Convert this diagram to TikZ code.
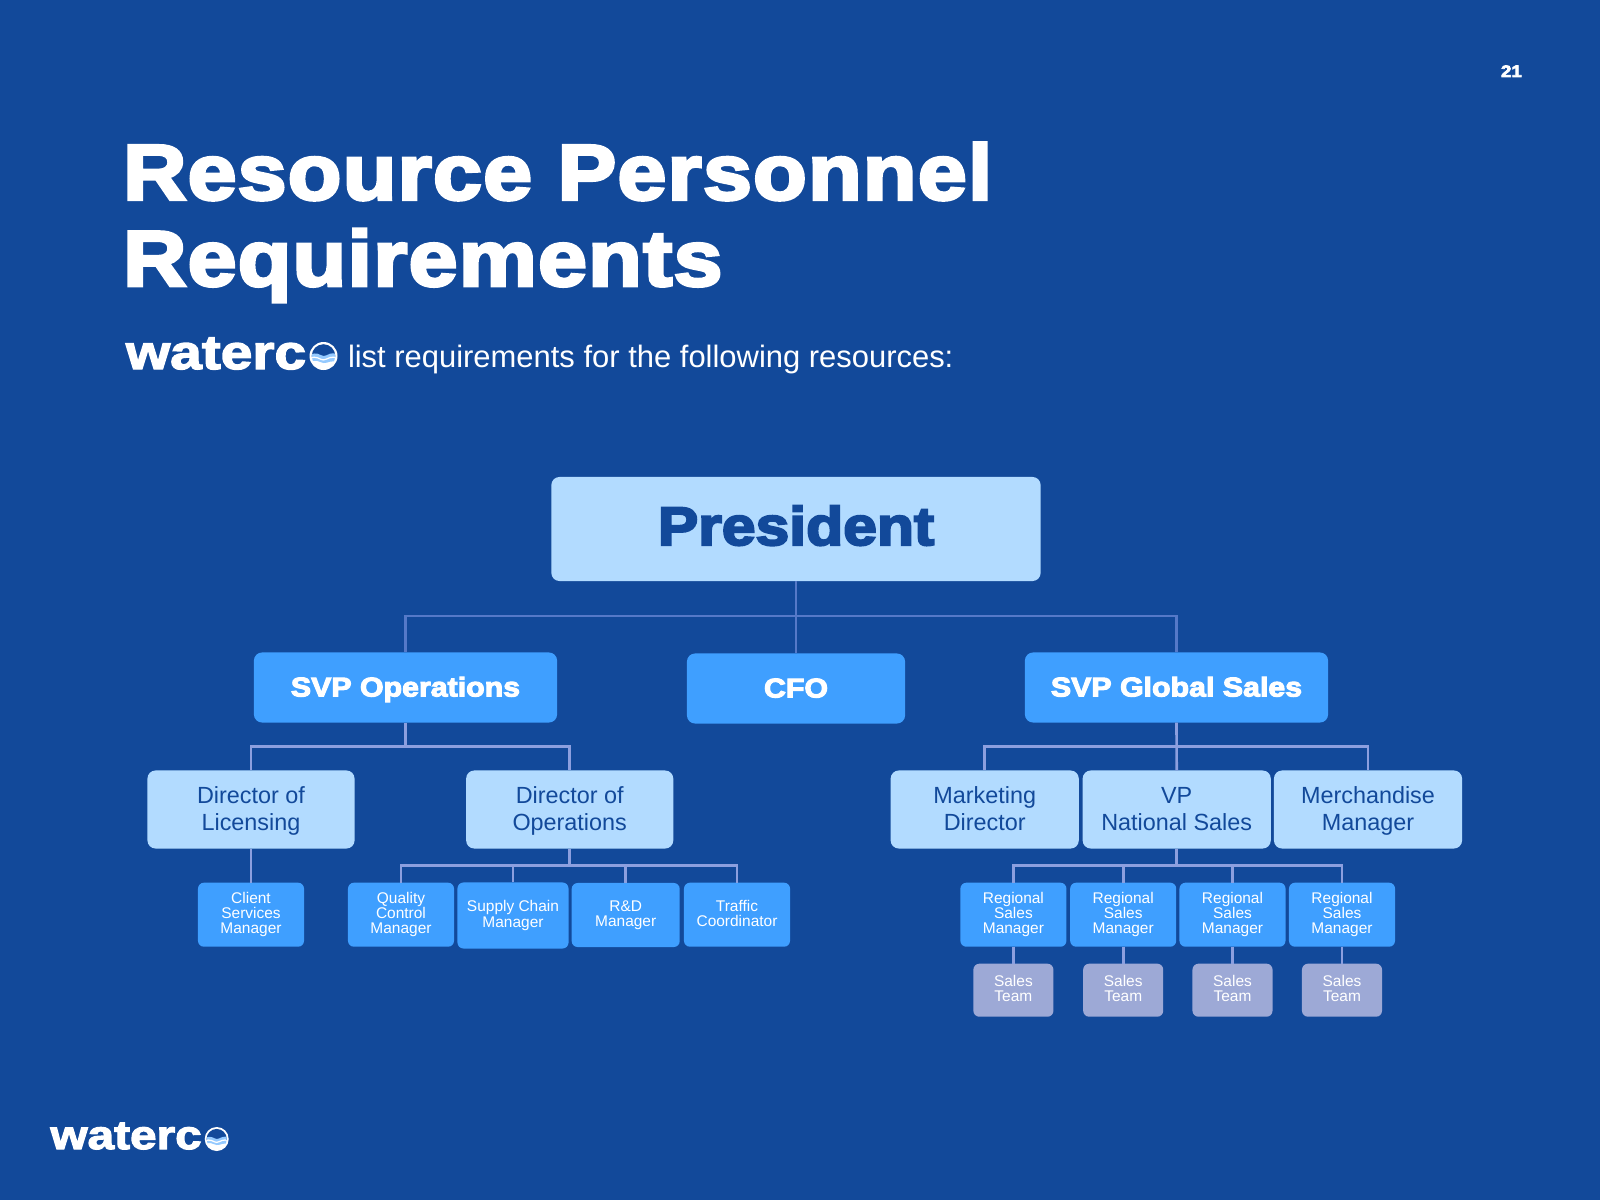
\documentclass[tikz,border=0pt]{standalone}
\usepackage{fontspec}
\setmainfont{Liberation Sans}
\newfontfamily\heavyfont[UprightFont={* Bold},FakeStretch=1.12,FakeBold=4]{Liberation Sans}
\newfontfamily\titlefont[UprightFont={* Bold},FakeStretch=1.12,FakeBold=4,LetterSpace=1.6]{Liberation Sans}
\newfontfamily\logofont[UprightFont={* Bold},FakeStretch=1.18,FakeBold=3]{Liberation Sans}
\definecolor{bgblue}{HTML}{12499A}
\definecolor{paleblue}{HTML}{B2DBFF}
\definecolor{midblue}{HTML}{3F9FFF}
\definecolor{teamgrey}{HTML}{9DA9D6}
\definecolor{toplink}{HTML}{5579C8}
\definecolor{lowlink}{HTML}{8C9FDF}

\begin{document}
\begin{tikzpicture}[
    x=0.01cm, y=-0.01cm,
    box/.style={rectangle, rounded corners=2.3pt, inner sep=0pt, outer sep=0pt, text centered, align=center},
    head/.style={box, fill=paleblue, text=bgblue, minimum width=4.89cm, minimum height=1.04cm, font=\heavyfont\fontsize{15.4}{18}\selectfont, execute at begin node=\rule{0pt}{.8em}, execute at end node=\rule[-.21em]{0pt}{.21em}},
    senior/.style={box, fill=midblue, text=white, minimum width=3.03cm, minimum height=0.70cm, font=\heavyfont\fontsize{7.7}{9}\selectfont, execute at begin node=\rule{0pt}{.87em}, execute at end node=\rule[-.21em]{0pt}{.21em}},
    middle/.style={box, fill=paleblue, text=bgblue, minimum width=2.07cm, minimum height=0.78cm, font=\fontsize{6.65}{7.7}\selectfont, text height=12pt, text depth=0pt},
    wide/.style={middle, minimum width=1.88cm},
    staff/.style={box, rounded corners=1.7pt, fill=midblue, text=white, minimum width=1.06cm, minimum height=0.64cm, font=\fontsize{4.4}{4.35}\selectfont, execute at begin node=\rule{0pt}{.72em}, execute at end node=\rule[-.21em]{0pt}{.21em}},
    team/.style={box, rounded corners=1.7pt, fill=teamgrey, text=white, minimum width=0.80cm, minimum height=0.53cm, font=\fontsize{4.4}{4.35}\selectfont, execute at begin node=\rule{0pt}{.72em}, execute at end node=\rule[-.21em]{0pt}{.21em}},
    uplink/.style={draw=toplink, line width=0.8pt},
    link/.style={draw=lowlink, line width=0.75pt},
    plain/.style={inner sep=0pt, outer sep=0pt, text=white, anchor=base west},
    pics/logoball/.style={code={
        \begin{scope}[x=#1*0.01cm, y=-#1*0.01cm]
            \fill[white] (0,0) circle (1);
            \begin{scope}
                \clip (0,0) circle (0.84);
                \fill[bgblue] (-1,-1) rectangle (1,0.1);
                \fill[midblue!55!white] (-1,-0.02) .. controls (-0.5,-0.4) and (-0.25,-0.02) .. (0,0) .. controls (0.3,0.02) and (0.6,-0.45) .. (1,-0.02) -- (1,0.5) .. controls (0.6,0.2) and (0.3,0.55) .. (0,0.5) .. controls (-0.3,0.45) and (-0.6,0.15) .. (-1,0.5) -- cycle;
                \draw[white, line width=0.35pt] (-1,0.2) .. controls (-0.5,-0.1) and (-0.25,0.3) .. (0,0.28) .. controls (0.3,0.25) and (0.6,-0.1) .. (1,0.2);
            \end{scope}
        \end{scope}
    }}
]

% Sfondo
\fill[bgblue] (0,0) rectangle (1600,1200);
\useasboundingbox (0,0) rectangle (1600,1200);

% Titolo
\node[plain, font=\heavyfont\fontsize{4.75}{6}\selectfont] (pagenum) at (1501,77) {21};
\node[plain, font=\titlefont\fontsize{22.3}{25}\selectfont] (title1) at (123,199.5) {Resource Personnel};
\node[plain, font=\titlefont\fontsize{22.3}{25}\selectfont] (title2) at (123,285.7) {Requirements};
\node[plain, font=\logofont\fontsize{13.7}{16}\selectfont] (logotop) at (126,369) {waterc};
\pic at (323.5,356) {logoball=14};
\node[plain, font=\fontsize{8.8}{11}\selectfont] (subtitle) at (348,367) {list requirements for the following resources:};
\node[plain, font=\logofont\fontsize{11.5}{14}\selectfont] (logolow) at (50.5,1149) {waterc};
\pic at (216.7,1139) {logoball=12};

% Livello 1 e 2
\node[head] (president) at (796,529) {President};
\node[senior] (svpops) at (405.5,687.5) {SVP Operations};
\node[senior, minimum width=2.18cm] (cfo) at (796,688.5) {CFO};
\node[senior] (svpsales) at (1176.5,687.5) {SVP Global Sales};

% Livello 3
\node[middle] (licensing) at (251,809.5) {Director of\\Licensing};
\node[middle] (operations) at (569.7,809.5) {Director of\\Operations};
\node[wide] (marketing) at (984.7,809.5) {Marketing\\Director};
\node[wide] (vpsales) at (1176.7,809.5) {VP\\National Sales};
\node[wide] (merchandise) at (1368,809.5) {Merchandise\\Manager};

% Livello 4
\node[staff] (client) at (251,914.7) {Client\\Services\\Manager};
\node[staff] (quality) at (401,914.7) {Quality\\Control\\Manager};
\node[staff, minimum width=1.11cm, minimum height=0.66cm] (supply) at (513,915.5) {Supply Chain\\Manager};
\node[staff, minimum width=1.08cm] (rnd) at (625.7,915) {R\&D\\Manager};
\node[staff] (traffic) at (737,914.7) {Traffic\\Coordinator};
\node[staff] (regional1) at (1013.4,914.7) {Regional\\Sales\\Manager};
\node[staff] (regional2) at (1123.2,914.7) {Regional\\Sales\\Manager};
\node[staff] (regional3) at (1232.5,914.7) {Regional\\Sales\\Manager};
\node[staff] (regional4) at (1342,914.7) {Regional\\Sales\\Manager};

% Squadre
\node[team] (team1) at (1013.4,990.2) {Sales\\Team};
\node[team] (team2) at (1123.2,990.2) {Sales\\Team};
\node[team] (team3) at (1232.5,990.2) {Sales\\Team};
\node[team] (team4) at (1342,990.2) {Sales\\Team};

% Punti di giunzione
\coordinate (hubtop) at (796,616);
\coordinate (hubops) at (405.5,746.7);
\coordinate (hubsales) at (1176.5,746.7);
\coordinate (hubdir) at (569.7,865.7);
\coordinate (hubvp) at (1176.7,865.7);

% Collegamenti
\draw[uplink] (president.south) -- (cfo.north);
\draw[uplink] (svpops.north) |- (hubtop) -| (svpsales.north);
\draw[link] (svpops.south) -- (hubops);
\draw[link] (licensing.north) |- (hubops) -| (operations.north);
\draw[link] (svpsales.south) -- (vpsales.north);
\draw[link] (marketing.north) |- (hubsales) -| (merchandise.north);
\draw[link] (licensing.south) -- (client.north);
\draw[link] (operations.south) -- (hubdir);
\draw[link] (quality.north) |- (hubdir) -| (traffic.north);
\draw[link] (supply.north) -- (supply.north |- hubdir);
\draw[link] (rnd.north) -- (rnd.north |- hubdir);
\draw[link] (vpsales.south) -- (hubvp);
\draw[link] (regional1.north) |- (hubvp) -| (regional4.north);
\draw[link] (regional2.north) -- (regional2.north |- hubvp);
\draw[link] (regional3.north) -- (regional3.north |- hubvp);
\draw[link] (regional1.south) -- (team1.north);
\draw[link] (regional2.south) -- (team2.north);
\draw[link] (regional3.south) -- (team3.north);
\draw[link] (regional4.south) -- (team4.north);

\end{tikzpicture}
\end{document}
